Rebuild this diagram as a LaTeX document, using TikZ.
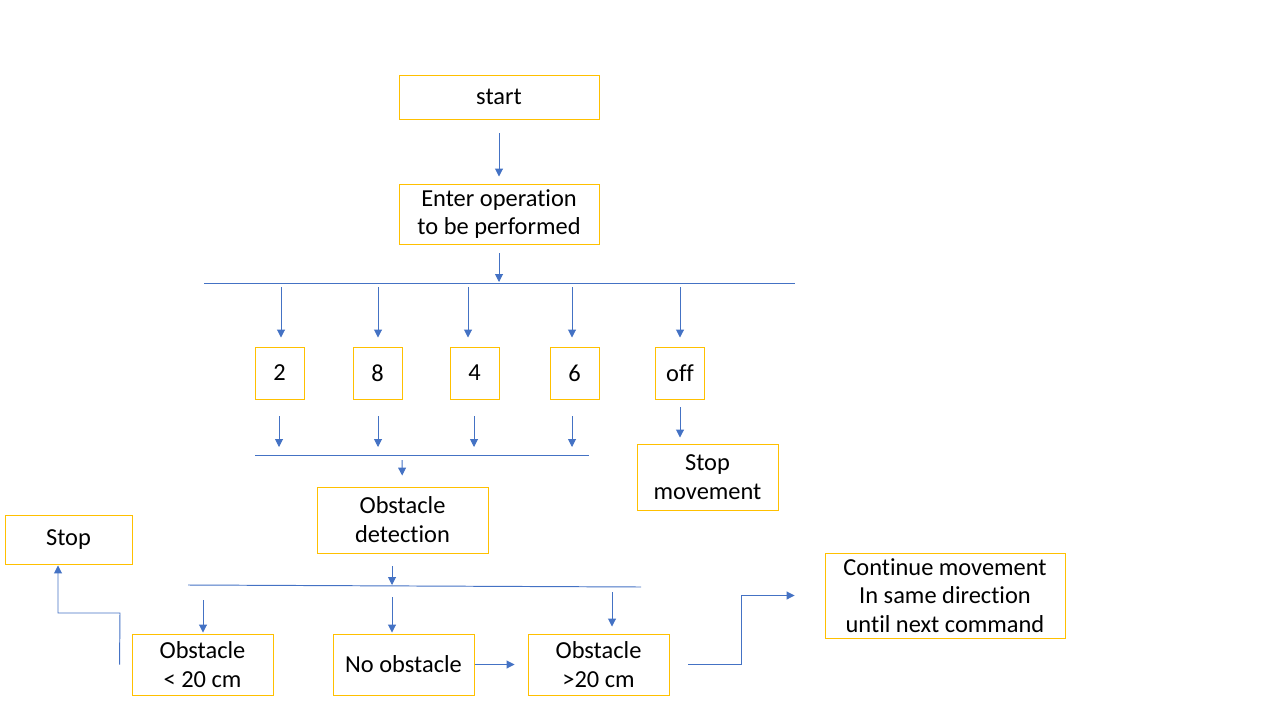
\documentclass[tikz,border=0pt]{standalone}
\usepackage{fontspec}
\setmainfont{Carlito}[Ligatures=NoCommon]
\usepackage{xcolor}
\usetikzlibrary{arrows.meta}

\definecolor{linkblue}{HTML}{4472C4}
\definecolor{boxgold}{HTML}{FFC000}

\tikzset{
  box/.style={draw=boxgold, line width=0.55pt, align=center, inner sep=0pt,
    font=\fontsize{13.9}{16.4}\selectfont},
  arr/.style={draw=linkblue, line width=0.55pt, -{Triangle[width=4.5pt,length=4.5pt]}},
  bus/.style={draw=linkblue, line width=0.55pt}
}

\begin{document}
\begin{tikzpicture}[x=0.02cm, y=-0.02cm]

    % page
    \useasboundingbox (0,0) rectangle (1273,716);

    % boxes
    \node[box, minimum width=4cm, minimum height=0.88cm] (start) at (499,97) {start};
    \node[box, minimum width=4cm, minimum height=1.2cm] (enter) at (499,214) {Enter operation\\to be performed};
    \node[box, minimum width=0.98cm, minimum height=1.04cm] (two) at (279.5,373) {2};
    \node[box, minimum width=0.98cm, minimum height=1.04cm] (eight) at (377.5,373) {8};
    \node[box, minimum width=0.98cm, minimum height=1.04cm] (four) at (474.5,373) {4};
    \node[box, minimum width=0.98cm, minimum height=1.04cm] (six) at (574.5,373) {6};
    \node[box, minimum width=0.98cm, minimum height=1.04cm] (off) at (680,373) {off};
    \node[box, minimum width=2.82cm, minimum height=1.32cm] (stopmove) at (707.5,477) {Stop\\movement};
    \node[box, minimum width=3.42cm, minimum height=1.32cm] (detect) at (402.5,520) {Obstacle\\detection};
    \node[box, minimum width=2.54cm, minimum height=0.98cm] (stop) at (68.5,539.5) {Stop};
    \node[box, minimum width=2.82cm, minimum height=1.22cm] (near) at (202.5,664.5) {Obstacle\\< 20 cm};
    \node[box, minimum width=2.82cm, minimum height=1.22cm] (clear) at (403.5,664.5) {No obstacle};
    \node[box, minimum width=2.82cm, minimum height=1.22cm] (far) at (598.5,664.5) {Obstacle\\>20 cm};
    \node[box, minimum width=4.8cm, minimum height=1.7cm] (cont) at (945,595.5) {Continue movement\\In same direction\\until next command};

    % bus lines
    \coordinate (busA) at (204,283);
    \coordinate (busB) at (255,455);
    \coordinate (busC) at (188,585);
    \draw[bus] (busA) -- (795,283);
    \draw[bus] (busB) -- (589,455);
    \draw[bus] (busC) -- (641,587);

    % top part
    \draw[arr, shorten <=0.28cm, shorten >=0.14cm] (start) -- (enter);
    \draw[arr, shorten <=0.18cm, shorten >=0.02cm] (enter.south) -- (enter.south |- busA);
    \foreach \nd/\px in {two/281, eight/378, four/468, six/572, off/680}
      \draw[arr, shorten <=0.08cm, shorten >=0.18cm] (\px,283) -- (\px,283 |- \nd.north);

    % middle part
    \foreach \nd/\px in {two/279, eight/378, four/474, six/572}
      \draw[arr, shorten <=0.34cm, shorten >=0.16cm] (\px,399 |- \nd.south) -- (\px,455);
    \draw[arr, shorten <=0.16cm, shorten >=0.12cm] (off.south) -- (off.south |- stopmove.north);
    \draw[arr, shorten <=0.1cm, shorten >=0.22cm] (402,455) -- (detect);

    % bottom part
    \draw[arr, shorten <=0.26cm, shorten >=0.02cm] (392,553 |- detect.south) -- (392,586);
    \draw[arr, shorten <=0.3cm, shorten >=0.02cm] (203,585) -- (203,585 |- near.north);
    \draw[arr, shorten <=0.22cm, shorten >=0.02cm] (392,586) -- (392,586 |- clear.north);
    \draw[arr, shorten <=0.1cm, shorten >=0.14cm] (612,587) -- (612,587 |- far.north);
    \draw[arr, shorten <=0.02cm, shorten >=0.26cm] (clear) -- (far);

    % side exits
    \coordinate (kneeR) at (741,596);
    \coordinate (kneeL) at (120,613);
    \draw[arr, shorten <=0.38cm, shorten >=0.6cm] (far.east) -- (far.east -| kneeR) |- (cont.west);
    \draw[arr, shorten >=0.02cm] ([xshift=-0.24cm]near.west) -- (kneeL) -| ([xshift=-0.21cm]stop.south);
\end{tikzpicture}
\end{document}
